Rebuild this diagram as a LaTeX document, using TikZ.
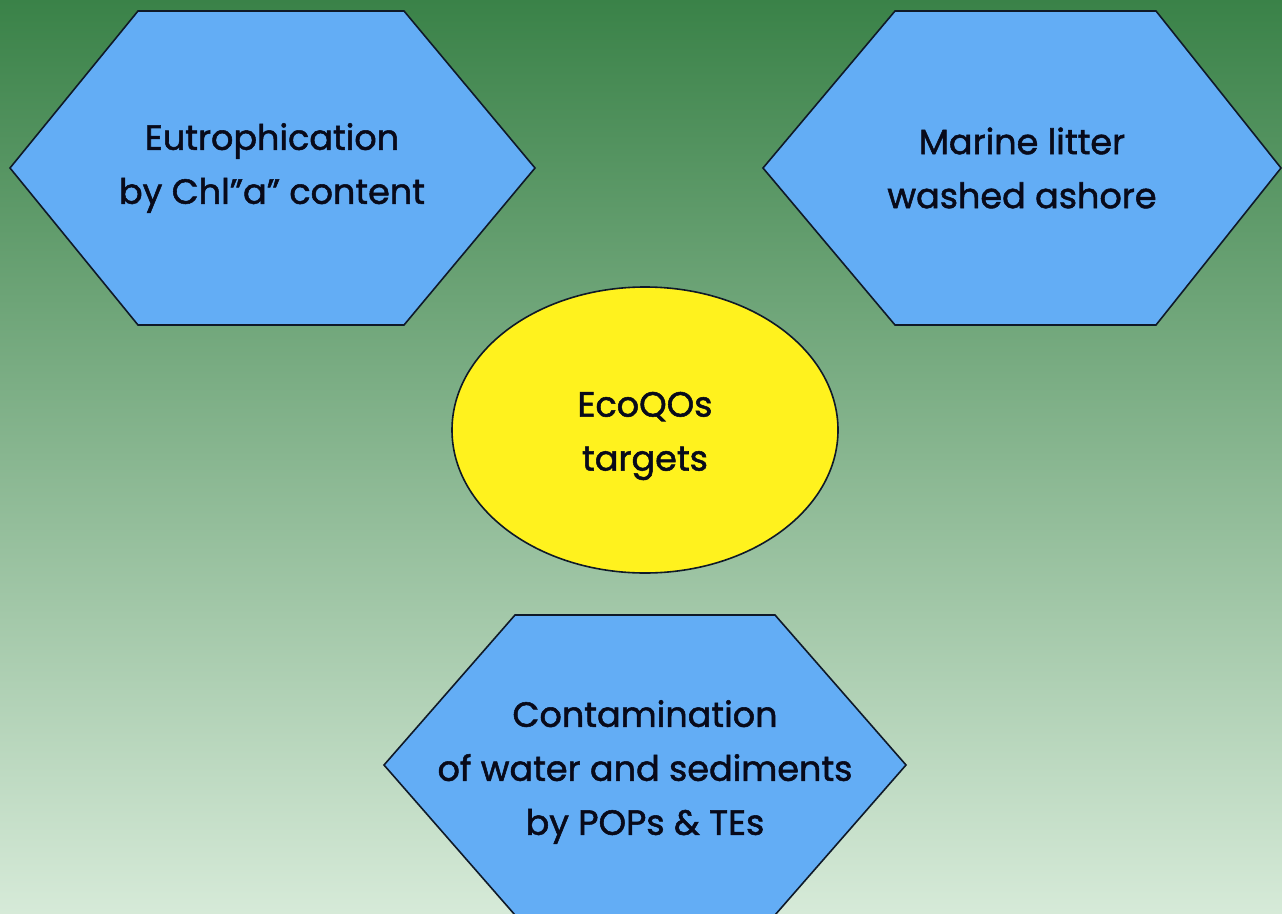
\documentclass[tikz,border=0pt]{standalone}
\usepackage{fontspec}
\setmainfont{Poppins}[FakeBold=1.5]
\definecolor{bgtop}{RGB}{58,130,72}
\definecolor{bgmid}{RGB}{140,182,148}
\definecolor{bgbot}{RGB}{214,234,216}
\definecolor{hexblue}{RGB}{99,173,245}
\definecolor{ellyellow}{RGB}{255,242,30}
\definecolor{edgecol}{RGB}{15,25,40}
\definecolor{txtcol}{RGB}{8,10,26}
\tikzset{
  hexa/.style={fill=hexblue, draw=edgecol, line width=1.6pt, line join=miter},
  lbl/.style={align=center, text=txtcol, font=\fontsize{35}{54}\selectfont, inner sep=0pt},
  ell/.style={fill=ellyellow, draw=edgecol, line width=1.6pt}
}
\begin{document}
\begin{tikzpicture}[x=1pt,y=-1pt]
\useasboundingbox (0,0) rectangle (1282,913);
\clip (0,0) rectangle (1282,913);
\shade[top color=bgtop, middle color=bgmid, bottom color=bgbot] (0,0) rectangle (1282,913);
% hexagon 1
\draw[hexa] (10,168) -- (138,11) -- (404,11) -- (535,168) -- (404,325) -- (138,325) -- cycle;
\node[lbl] (h1) at (272,168) {Eutrophication\\by Chl''a'' content};
% hexagon 2
\draw[hexa] (763,168) -- (895,11) -- (1156,11) -- (1281,168) -- (1156,325) -- (895,325) -- cycle;
\node[lbl] (h2) at (1022,168) {Marine litter\\washed ashore};
% hexagon 3
\draw[hexa] (384,765) -- (515,615) -- (775,615) -- (906,765) -- (775,915) -- (515,915) -- cycle;
\node[lbl] (h3) at (645,772) {Contamination\\of water and sediments\\by POPs \& TEs};
% ellipse
\draw[ell] (645,430) ellipse [x radius=193pt, y radius=143pt];
\node[lbl] (e) at (645,436) {EcoQOs\\targets};
\end{tikzpicture}
\end{document}
